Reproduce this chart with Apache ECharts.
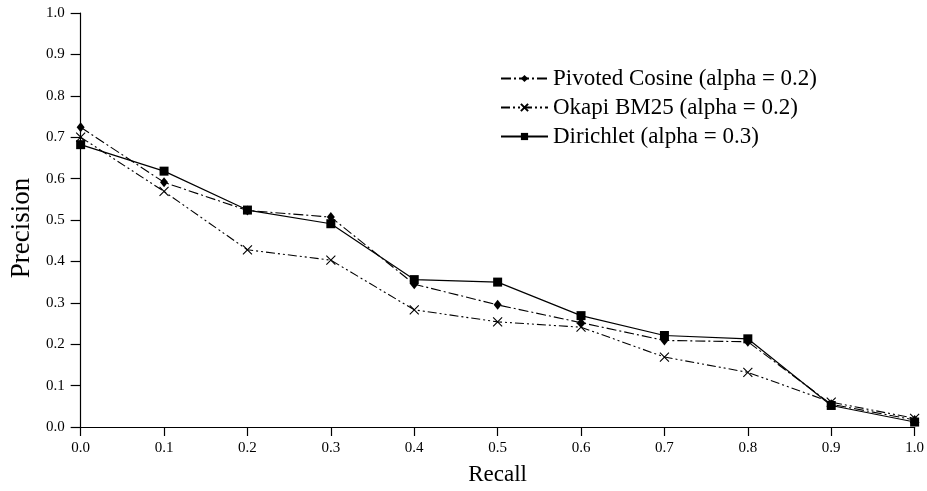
<!DOCTYPE html>
<html><head><meta charset="utf-8">
<script src="https://cdn.jsdelivr.net/npm/echarts@6/dist/echarts.min.js"></script>
<style>html,body{margin:0;padding:0;background:#fff}#c{width:927px;height:491px}</style>
</head><body><div id="c"></div>
<script>
const recall = [0.0,0.1,0.2,0.3,0.4,0.5,0.6,0.7,0.8,0.9,1.0];
const pivoted = [0.724,0.591,0.523,0.507,0.345,0.295,0.252,0.209,0.206,0.055,0.017];
const okapi   = [0.700,0.569,0.428,0.403,0.283,0.254,0.241,0.169,0.132,0.060,0.021];
const dirichlet = [0.682,0.618,0.524,0.491,0.356,0.350,0.269,0.221,0.213,0.052,0.012];
const names = ['Pivoted Cosine (alpha = 0.2)','Okapi BM25 (alpha = 0.2)','Dirichlet (alpha = 0.3)'];
const yTicks = [0.0,0.1,0.2,0.3,0.4,0.5,0.6,0.7,0.8,0.9,1.0];

const font = 'Liberation Serif';
const pair = arr => recall.map((r,i)=>[r,arr[i]]);
const chart = echarts.init(document.getElementById('c'));
chart.setOption({
  animation:false,
  backgroundColor:'#fff',
  textStyle:{fontFamily:font,color:'#000'},
  grid:{left:79,right:12,top:13,bottom:60,containLabel:false},
  legend:{
    orient:'vertical', left:495, top:62, itemWidth:47, itemHeight:9, itemGap:6,
    textStyle:{fontFamily:font,fontSize:23,color:'#000'},
    data:names
  },
  xAxis:{
    type:'value', min:0, max:1, interval:0.1,
    name:'Recall', nameLocation:'middle', nameGap:36,
    nameTextStyle:{fontFamily:font,fontSize:23,color:'#000'},
    axisLine:{show:true,onZero:false,lineStyle:{color:'#000',width:1.2}},
    axisTick:{show:true,inside:false,length:9,lineStyle:{color:'#000',width:1.2}},
    axisLabel:{fontFamily:font,fontSize:15,color:'#000',margin:14,formatter:v=>v.toFixed(1)},
    splitLine:{show:false}
  },
  yAxis:{
    type:'value', min:0, max:1, interval:0.1,
    name:'Precision', nameLocation:'middle', nameGap:43,
    nameTextStyle:{fontFamily:font,fontSize:27,color:'#000',padding:[0,16,0,0]},
    axisLine:{show:true,onZero:false,lineStyle:{color:'#000',width:1.2}},
    axisTick:{show:true,inside:false,length:10,lineStyle:{color:'#000',width:1.2}},
    axisLabel:{fontFamily:font,fontSize:15,color:'#000',margin:16,formatter:v=>{
      const t = yTicks.find(x=>Math.abs(x-v)<1e-6); return (t!==undefined?t:v).toFixed(1);}},
    splitLine:{show:false}
  },
  series:[
    {name:names[0],type:'line',data:pair(pivoted),symbol:'diamond',symbolSize:[8,10],
     itemStyle:{color:'#000'},lineStyle:{color:'#000',width:1.1,type:[10,3,2,3]},z:3},
    {name:names[1],type:'line',data:pair(okapi),symbol:'path://M0,0L10,10M10,0L0,10',symbolSize:9,
     itemStyle:{color:'#000',borderColor:'#000',borderWidth:1.1},lineStyle:{color:'#000',width:1.1,type:[9,3,2,3,2,3]},z:2},
    {name:names[2],type:'line',data:pair(dirichlet),symbol:'rect',symbolSize:9,
     itemStyle:{color:'#000'},lineStyle:{color:'#000',width:1.2,type:'solid'},z:4}
  ]
});
</script></body></html>
